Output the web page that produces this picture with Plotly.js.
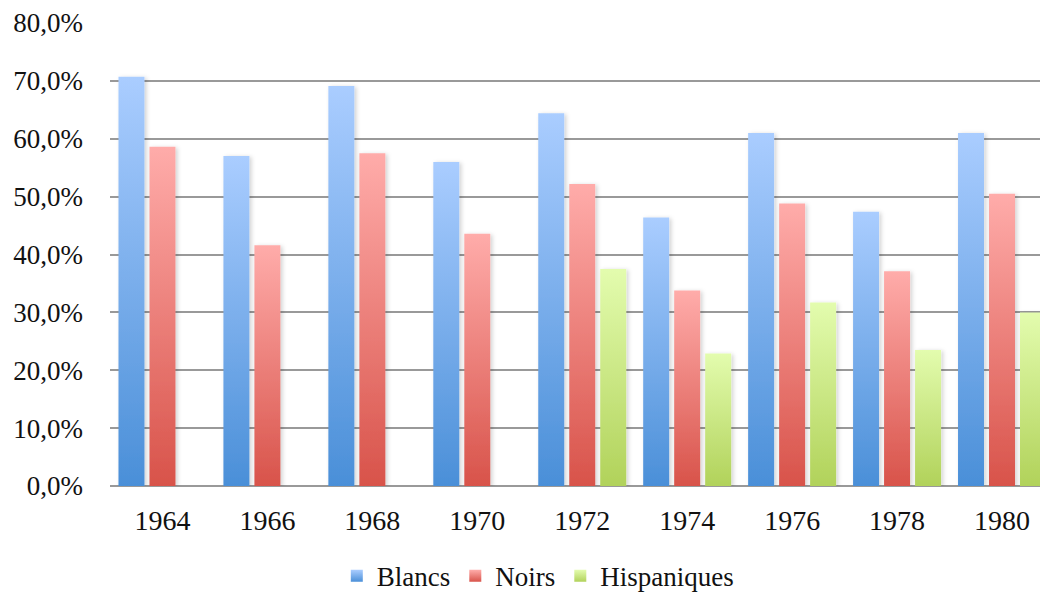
<!DOCTYPE html>
<html>
<head>
<meta charset="utf-8">
<script src="https://cdn.plot.ly/plotly-3.0.1.min.js"></script>
<style>html,body{margin:0;padding:0;background:#fff;}#chart{width:1040px;height:593px;}</style>
</head>
<body>
<div id="chart"></div>
<script>
var years = ['1964','1966','1968','1970','1972','1974','1976','1978','1980'];
var blancs = [70.7, 57.0, 69.1, 56.0, 64.4, 46.4, 61.0, 47.4, 61.0];
var noirs = [58.6, 41.6, 57.5, 43.6, 52.2, 33.8, 48.8, 37.1, 50.5];
var hispaniques = [null, null, null, null, 37.5, 22.9, 31.7, 23.5, 30.0];
var seriesNames = ['Blancs', 'Noirs', 'Hispaniques'];
var midColors = ['#79aeea', '#ee8079', '#cde690'];
var gradStops = [['#aacdff', '#4a8fd8'], ['#ffacaa', '#d8534a'], ['#e3fcae', '#b1d25a']];

var font = {family: 'Liberation Serif, serif', size: 27, color: '#111'};
var xfont = {family: 'Liberation Serif, serif', size: 28, color: '#111'};

var data = [blancs, noirs, hispaniques].map(function (vals, i) {
  return {type: 'bar', x: years, y: vals, name: seriesNames[i],
          marker: {color: midColors[i], line: {width: 0}}};
});

var layout = {
  width: 1040, height: 593,
  margin: {l: 110, r: 0, t: 23, b: 107, autoexpand: false},
  paper_bgcolor: '#fff', plot_bgcolor: '#fff',
  font: font,
  separators: ', ',
  barmode: 'group',
  bargap: 0.114,
  bargroupgap: 0.161,
  showlegend: true,
  legend: {orientation: 'h', x: 0.46, xanchor: 'center', y: -0.195, yanchor: 'middle',
           font: font, itemwidth: 30, traceorder: 'normal'},
  xaxis: {type: 'category', range: [-0.5, 8.362], showgrid: false, zeroline: false,
          showline: false, ticks: '', ticklabelstandoff: 15, tickfont: xfont},
  yaxis: {range: [0, 80], dtick: 10, tickformat: '.1f', ticksuffix: '%',
          showgrid: true, gridcolor: '#999', gridwidth: 2,
          zeroline: true, zerolinecolor: '#999', zerolinewidth: 2,
          showline: false, ticks: '', ticklabelstandoff: 26, tickfont: font}
};

Plotly.newPlot('chart', data, layout, {displayModeBar: false, staticPlot: true}).then(function (gd) {
  var ns = 'http://www.w3.org/2000/svg';
  var svg = gd.querySelector('svg.main-svg');
  var defs = svg.querySelector('defs') || svg.insertBefore(document.createElementNS(ns, 'defs'), svg.firstChild);
  gradStops.forEach(function (st, i) {
    var g = document.createElementNS(ns, 'linearGradient');
    g.setAttribute('id', 'bargrad' + i);
    g.setAttribute('x1', '0'); g.setAttribute('y1', '0');
    g.setAttribute('x2', '0'); g.setAttribute('y2', '1');
    [[0, st[0]], [1, st[1]]].forEach(function (s) {
      var stop = document.createElementNS(ns, 'stop');
      stop.setAttribute('offset', s[0]);
      stop.setAttribute('stop-color', s[1]);
      g.appendChild(stop);
    });
    defs.appendChild(g);
  });
  var f = document.createElementNS(ns, 'filter');
  f.setAttribute('id', 'barshadow');
  f.setAttribute('x', '-30%'); f.setAttribute('y', '-10%');
  f.setAttribute('width', '160%'); f.setAttribute('height', '130%');
  var ds = document.createElementNS(ns, 'feDropShadow');
  ds.setAttribute('dx', '2'); ds.setAttribute('dy', '1');
  ds.setAttribute('stdDeviation', '2');
  ds.setAttribute('flood-color', '#000'); ds.setAttribute('flood-opacity', '0.18');
  f.appendChild(ds);
  defs.appendChild(f);

  var traces = gd.querySelectorAll('.barlayer .trace');
  traces.forEach(function (t, i) {
    t.querySelectorAll('.point path').forEach(function (p) {
      p.style.fill = 'url(#bargrad' + i + ')';
      p.setAttribute('filter', 'url(#barshadow)');
    });
  });
  var leg = gd.querySelectorAll('.legend .traces');
  leg.forEach(function (t, i) {
    t.querySelectorAll('.legendpoints path').forEach(function (p) {
      p.style.fill = 'url(#bargrad' + i + ')';
    });
  });
});
</script>
</body>
</html>
